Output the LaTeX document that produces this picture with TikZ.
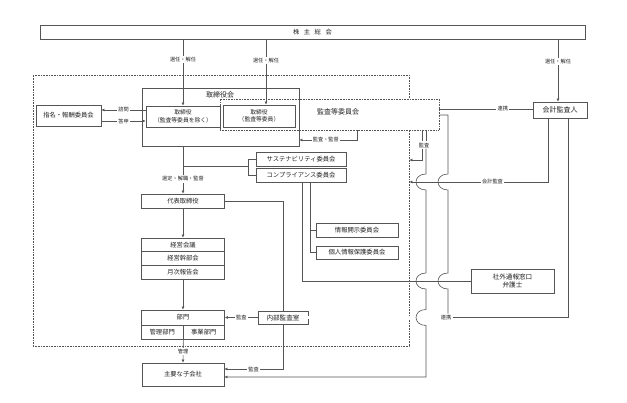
\documentclass[tikz,border=0pt]{standalone}
\usepackage{fontspec}
\setmainfont{Noto Sans CJK JP}
\usetikzlibrary{arrows.meta}
\definecolor{lc}{HTML}{555555}
\definecolor{tc}{HTML}{222222}
\begin{document}
\begin{tikzpicture}[x=1pt,y=-1pt,
  box/.style={draw=lc, line width=0.7pt, fill=white, inner sep=0pt, align=center, text=tc, font=\fontsize{6.3}{7.6}\selectfont},
  ttl/.style={inner sep=0pt, text=tc, font=\fontsize{7}{8}\selectfont},
  lbl/.style={fill=white, inner sep=1.2pt, text=tc, font=\fontsize{5.2}{5.4}\selectfont},
  ln/.style={draw=lc, line width=0.6pt},
  arr/.style={ln, -{Latex[length=3pt,width=3pt]}},
  dots/.style={draw=lc, line width=0.6pt, densely dotted, inner sep=0pt}
]
\useasboundingbox (0,0) rectangle (627,403);
\fill[white] (0,0) rectangle (627,403);

% helper coordinates
\coordinate (v248) at (248,0);
\coordinate (v266) at (266,0);
\coordinate (v302) at (302,0);
\coordinate (v310) at (310,0);
\coordinate (v357) at (357,0);
\coordinate (v422) at (422,0);
\coordinate (v426) at (426,0);
\coordinate (v448) at (448,0);
\coordinate (v548) at (548,0);
\coordinate (v558) at (558,0);
\coordinate (v568) at (568,0);
\coordinate (h109) at (0,109);
\coordinate (h110) at (0,110);
\coordinate (h115) at (0,115);
\coordinate (h121) at (0,121);
\coordinate (h140) at (0,140);
\coordinate (h160) at (0,160);
\coordinate (h182) at (0,182);
\coordinate (h369) at (0,369);
\coordinate (h377) at (0,377);
\coordinate (br) at (183,166);

% outer dotted company box
\node[dots, minimum width=376pt, minimum height=271pt] (outer) at (221,210.5) {};

% top
\node[box, minimum width=545pt, minimum height=14pt] (kabu) at (312.5,32) {株\hspace{4.5pt}主\hspace{4.5pt}総\hspace{4.5pt}会};

% board and audit committee
\node[dots, fill=white, minimum width=219pt, minimum height=31pt] (kansa) at (329.5,114.5) {};
\node[box, fill=none, minimum width=157pt, minimum height=58pt] (torikai) at (220.5,117) {};
\node[ttl] (torikaiT) at (220,95) {取締役会};
\node[ttl] (kansaT) at (338,112) {監査等委員会};
\node[box, minimum width=74pt, minimum height=21pt, font=\fontsize{5.8}{7.4}\selectfont] (tori1) at (183,116.5) {取締役\\（監査等委員を除く）};
\node[box, minimum width=72pt, minimum height=22pt, font=\fontsize{5.8}{7.4}\selectfont] (tori2) at (259,116) {取締役\\（監査等委員）};

\node[box, minimum width=65pt, minimum height=21pt] (shimei) at (68.5,115.5) {指名・報酬委員会};

% committees
\node[box, minimum width=90pt, minimum height=14pt] (sustain) at (301,159) {サステナビリティ委員会};
\node[box, minimum width=90pt, minimum height=14pt] (compl) at (301,175) {コンプライアンス委員会};
\node[box, minimum width=82pt, minimum height=14pt] (joho) at (357,230) {情報開示委員会};
\node[box, minimum width=82pt, minimum height=13pt] (kojin) at (357,252.5) {個人情報保護委員会};

% executive column
\node[box, minimum width=83pt, minimum height=14pt] (daihyo) at (183,201) {代表取締役};
\node[box, minimum width=83pt, minimum height=13.7pt] (keiei1) at (183,244.85) {経営会議};
\node[box, minimum width=83pt, minimum height=13.7pt] (keiei2) at (183,258.55) {経営幹部会};
\node[box, minimum width=83pt, minimum height=13.7pt] (keiei3) at (183,272.25) {月次報告会};
\node[box, minimum width=83pt, minimum height=15pt] (bumon) at (183,317.5) {部門};
\node[box, minimum width=41.5pt, minimum height=14pt] (kanri) at (162.25,332) {管理部門};
\node[box, minimum width=41.5pt, minimum height=14pt] (jigyo) at (203.75,332) {事業部門};
\node[box, minimum width=82pt, minimum height=23pt] (kogaisha) at (183,374.5) {主要な子会社};

\node[box, minimum width=50pt, minimum height=13pt, font=\fontsize{6.6}{7.6}\selectfont] (naibu) at (283,317.5) {内部監査室};
\node[box, minimum width=83pt, minimum height=24pt, font=\fontsize{6.6}{7.4}\selectfont] (shagai) at (512.5,281) {社外通報窓口\\弁護士};
\node[box, minimum width=54pt, minimum height=16pt, font=\fontsize{7}{8}\selectfont] (kaikei) at (560,110) {会計監査人};

% shareholders -> appointments
\draw[arr] (kabu.south -| tori1.north) -- node[lbl,pos=0.31]{選任・解任} (tori1.north);
\draw[arr] (kabu.south -| v266) -- node[lbl,pos=0.32]{選任・解任} (tori2.north -| v266);
\draw[arr] (kabu.south -| v558) -- node[lbl,pos=0.35]{選任・解任} (kaikei.north -| v558);

% nomination committee
\draw[arr] (tori1.west |- h110) -- node[lbl]{諮問} (shimei.east |- h110);
\draw[arr] (shimei.east |- h121) -- node[lbl]{答申} (tori1.west |- h121);

% audit committee -> board
\draw[arr] (kansa.south -| v357) |- node[lbl,pos=0.77]{監査・監督} (torikai.east |- h140);

% board -> representative director
\draw[arr] (torikai.south -| daihyo.north) -- node[lbl,pos=0.69]{選定・解職・監督} (daihyo.north);
\draw[ln] (br) -- (br -| v248);
\draw[ln] (sustain.west) -- (sustain.west -| v248) |- (compl.west);

% executive chain
\draw[arr] (daihyo.south) -- (keiei1.north);
\draw[arr] (keiei3.south) -- (bumon.north);
\draw[arr] (kanri.south east) -- node[lbl,pos=0.52]{管理} (kogaisha.north);

% internal audit
\draw[ln] (daihyo.east) -| (naibu.north);
\draw[arr] (naibu.west) -- node[lbl]{監査} (bumon.east |- naibu.west);
\draw[arr] (naibu.south) |- node[lbl,pos=0.75]{監査} (kogaisha.east |- h369);

% compliance branches
\draw[ln] (compl.south -| v302) |- (shagai.west);
\draw[ln] (compl.south -| v310) |- (kojin.west);
\draw[ln] (joho.west) -- (joho.west -| v310);

% liaison
\node[lbl] (renk2) at (446,317.5) {連携};
\draw[draw=lc, line width=0.5pt, double, double distance=2.2pt] (naibu.east) -- (renk2.west);
\draw[ln] (renk2.east) -| (kaikei.south -| v568);
\draw[ln] (kansa.east |- h109) -- node[lbl,pos=0.68]{連携} (kaikei.west |- h109);

% accounting audit
\draw[arr] (kaikei.south -| v548) |- node[lbl,pos=0.70]{会計監査} (outer.east |- h182);

% audit committee -> right vertical with bumps
\draw[ln] (kansa.east |- h115) -| (448,174)
  .. controls (434.7,174) and (434.7,190) .. (448,190) -- (448,273)
  .. controls (434.7,273) and (434.7,289) .. (448,289) -- (renk2.north -| v448);

% audit committee audit lines
\node[lbl] (kansaL) at (424,145) {監査};
\draw[ln] (kansa.south -| v422) -- (kansaL.north -| v422);
\draw[ln] (kansa.south -| v426) -- (kansaL.north -| v426);
\draw[arr] (kansaL.south -| v422) |- (outer.east |- h160);
\draw[arr] (kansaL.south -| v426) -- (426,174)
  .. controls (412.7,174) and (412.7,190) .. (426,190) -- (426,273)
  .. controls (412.7,273) and (412.7,289) .. (426,289) -- (426,309.5)
  .. controls (412.7,309.5) and (412.7,325.5) .. (426,325.5) |- (kogaisha.east |- h377);
\end{tikzpicture}
\end{document}
